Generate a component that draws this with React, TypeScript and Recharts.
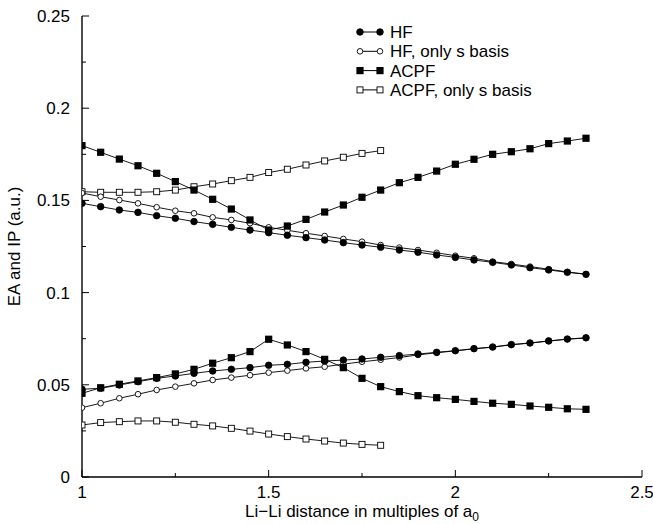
import React from 'react';
import { LineChart, Line, XAxis, YAxis } from 'recharts';

if (typeof document !== 'undefined') document.body.style.margin = '0';

const xs = [1.0, 1.05, 1.1, 1.15, 1.2, 1.25, 1.3, 1.35, 1.4, 1.45, 1.5, 1.55, 1.6, 1.65, 1.7, 1.75, 1.8, 1.85, 1.9, 1.95, 2.0, 2.05, 2.1, 2.15, 2.2, 2.25, 2.3, 2.35];

const hfUpper = [0.1484, 0.1466, 0.1448, 0.1435, 0.1417, 0.1403, 0.1385, 0.137, 0.1354, 0.1339, 0.1325, 0.1311, 0.1298, 0.1285, 0.1271, 0.1258, 0.1246, 0.1231, 0.1219, 0.1204, 0.1191, 0.1177, 0.1164, 0.115, 0.1135, 0.1123, 0.111, 0.1099];
const hfLower = [0.0476, 0.0481, 0.0499, 0.0517, 0.0535, 0.0548, 0.0562, 0.0575, 0.0584, 0.0593, 0.0606, 0.0611, 0.0622, 0.0629, 0.0634, 0.064, 0.0649, 0.0658, 0.0667, 0.0676, 0.0685, 0.0696, 0.0705, 0.0718, 0.0727, 0.0738, 0.0748, 0.0755];

const hfsUpper = [0.154, 0.152, 0.1502, 0.1484, 0.1463, 0.1444, 0.143, 0.1408, 0.1394, 0.1376, 0.1354, 0.1338, 0.1322, 0.1307, 0.1291, 0.1276, 0.1258, 0.1244, 0.1231, 0.1216, 0.12, 0.1186, 0.1168, 0.1155, 0.1141, 0.1127, 0.1112, 0.11];
const hfsLower = [0.0376, 0.04, 0.0427, 0.0449, 0.0472, 0.049, 0.0508, 0.0526, 0.0539, 0.0552, 0.0566, 0.0577, 0.0589, 0.0598, 0.0612, 0.0625, 0.0636, 0.0648, 0.0662, 0.0674, 0.0684, 0.0695, 0.0704, 0.0717, 0.0726, 0.0737, 0.0747, 0.0754];

const acpfUpper = [0.1797, 0.1761, 0.1724, 0.1688, 0.1647, 0.1602, 0.1556, 0.1506, 0.1453, 0.1394, 0.1339, 0.1361, 0.1397, 0.1437, 0.1475, 0.1517, 0.1556, 0.1596, 0.1625, 0.1659, 0.1696, 0.1723, 0.175, 0.1764, 0.178, 0.1808, 0.1822, 0.1837];
const acpfLower = [0.0454, 0.0484, 0.0503, 0.0521, 0.0539, 0.0559, 0.0584, 0.0617, 0.0647, 0.068, 0.0747, 0.0716, 0.068, 0.0638, 0.0593, 0.0535, 0.049, 0.0463, 0.0441, 0.043, 0.0421, 0.041, 0.04, 0.0394, 0.0385, 0.0378, 0.037, 0.0367];

const acpfsUpper = [0.1547, 0.1544, 0.1544, 0.1544, 0.1547, 0.1556, 0.1574, 0.1589, 0.1607, 0.1625, 0.1651, 0.1669, 0.1692, 0.1714, 0.1734, 0.1755, 0.177];
const acpfsLower = [0.0282, 0.0295, 0.03, 0.0304, 0.0304, 0.0297, 0.0286, 0.0277, 0.0264, 0.0249, 0.0233, 0.0219, 0.0206, 0.0195, 0.0184, 0.0177, 0.0172];

const xTicks = [1, 1.25, 1.5, 1.75, 2, 2.25, 2.5];
const xLabels = [1, 1.5, 2, 2.5];
const yTicks = [0, 0.025, 0.05, 0.075, 0.1, 0.125, 0.15, 0.175, 0.2, 0.225, 0.25];
const yLabels = [0, 0.05, 0.1, 0.15, 0.2, 0.25];

const legendNames = ['HF', 'HF, only s basis', 'ACPF', 'ACPF, only s basis'];

const data = xs.map((x, i) => ({
  x,
  hfU: hfUpper[i],
  hfL: hfLower[i],
  hfsU: hfsUpper[i],
  hfsL: hfsLower[i],
  acU: acpfUpper[i],
  acL: acpfLower[i],
  acsU: acpfsUpper[i],
  acsL: acpfsLower[i],
}));

const FONT = '"Liberation Sans", Arial, Helvetica, sans-serif';
const INK = '#000';

type Shape = 'fc' | 'oc' | 'fs' | 'os';

const marker = (shape: Shape, cx: number, cy: number, key?: string) => {
  if (shape === 'fc') return <circle key={key} cx={cx} cy={cy} r={3.3} fill={INK} stroke={INK} strokeWidth={0.8} />;
  if (shape === 'oc') return <circle key={key} cx={cx} cy={cy} r={2.8} fill="#fff" stroke={INK} strokeWidth={0.9} />;
  if (shape === 'fs') return <rect key={key} x={cx - 3.6} y={cy - 3.6} width={7.2} height={7.2} fill={INK} />;
  return <rect key={key} x={cx - 3} y={cy - 3} width={6} height={6} fill="#fff" stroke={INK} strokeWidth={0.9} />;
};

const makeDot = (shape: Shape) => (props: any) => {
  const { cx, cy, index, dataKey } = props;
  const k = `${dataKey}-${index}`;
  if (cx == null || cy == null || isNaN(cx) || isNaN(cy)) return <g key={k} />;
  return marker(shape, cx, cy, k);
};

const fmt = (v: number) => String(Number(v.toFixed(3)));

const BottomTick = (props: any) => {
  const { x, y, payload } = props;
  const v = payload.value;
  const major = xLabels.includes(v);
  return (
    <g>
      <line x1={x} x2={x} y1={y} y2={y - (major ? 7 : 4)} stroke={INK} strokeWidth={1} />
      {major && (
        <text x={x} y={y + 21} textAnchor="middle" fontSize={17} fontFamily={FONT} fill={INK}>
          {fmt(v)}
        </text>
      )}
    </g>
  );
};

const TopTick = (props: any) => {
  const { x, y, payload } = props;
  const major = xLabels.includes(payload.value);
  return <line x1={x} x2={x} y1={y} y2={y + (major ? 7 : 4)} stroke={INK} strokeWidth={1} />;
};

const LeftTick = (props: any) => {
  const { x, y, payload } = props;
  const v = payload.value;
  const major = yLabels.some((l) => Math.abs(l - v) < 1e-9);
  return (
    <g>
      <line x1={x} x2={x + (major ? 7 : 4)} y1={y} y2={y} stroke={INK} strokeWidth={1} />
      {major && (
        <text x={x - 12} y={y + 6} textAnchor="end" fontSize={17} fontFamily={FONT} fill={INK}>
          {fmt(v)}
        </text>
      )}
    </g>
  );
};

const RightTick = (props: any) => {
  const { x, y, payload } = props;
  const major = yLabels.some((l) => Math.abs(l - payload.value) < 1e-9);
  return <line x1={x} x2={x - (major ? 7 : 4)} y1={y} y2={y} stroke={INK} strokeWidth={1} />;
};

const XTitle = (props: any) => {
  const vb = props.viewBox || {};
  const cx = vb.x + vb.width / 2;
  return (
    <text x={cx} y={vb.y + 40} textAnchor="middle" fontSize={17} fontFamily={FONT} fill={INK}>
      {'Li\u2212Li distance in multiples of a'}
      <tspan fontSize={12} dy={4}>0</tspan>
    </text>
  );
};

const YTitle = (props: any) => {
  const vb = props.viewBox || {};
  const cy = vb.y + vb.height / 2;
  const x = 20;
  return (
    <text x={x} y={cy} transform={`rotate(-90 ${x} ${cy})`} textAnchor="middle" fontSize={17} fontFamily={FONT} fill={INK}>
      EA and IP (a.u.)
    </text>
  );
};

const legendShapes: Shape[] = ['fc', 'oc', 'fs', 'os'];

const LegendOverlay = () => (
  <svg width={653} height={110} style={{ position: 'absolute', left: 0, top: 0, pointerEvents: 'none' }}>
    {legendNames.map((name, i) => {
      const y = 32 + i * 19.3;
      return (
        <g key={name}>
          <line x1={360} x2={380} y1={y} y2={y} stroke={INK} strokeWidth={1} />
          {marker(legendShapes[i], 360, y)}
          {marker(legendShapes[i], 380, y)}
          <text x={390} y={y + 6} fontSize={17} fontFamily={FONT} fill={INK}>
            {name}
          </text>
        </g>
      );
    })}
  </svg>
);

const series: { key: string; shape: Shape }[] = [
  { key: 'acsU', shape: 'os' },
  { key: 'acsL', shape: 'os' },
  { key: 'hfsU', shape: 'oc' },
  { key: 'hfsL', shape: 'oc' },
  { key: 'acU', shape: 'fs' },
  { key: 'acL', shape: 'fs' },
  { key: 'hfU', shape: 'fc' },
  { key: 'hfL', shape: 'fc' },
];

export default function App() {
  return (
    <div style={{ position: 'relative', width: 653, height: 524, background: '#fff' }}>
      <LineChart width={653} height={524} data={data} margin={{ top: 16, right: 11, bottom: 7, left: 0 }}>
        <XAxis
          dataKey="x"
          type="number"
          domain={[1, 2.5]}
          ticks={xTicks}
          interval={0}
          allowDataOverflow
          height={40}
          tickSize={0}
          tickMargin={0}
          tickLine={false}
          axisLine={{ stroke: INK, strokeWidth: 1.4 }}
          tick={<BottomTick />}
          label={{ content: <XTitle /> } as any}
        />
        <XAxis
          xAxisId="top"
          orientation="top"
          dataKey="x"
          type="number"
          domain={[1, 2.5]}
          ticks={xTicks}
          interval={0}
          allowDataOverflow
          height={0}
          tickSize={0}
          tickMargin={0}
          tickLine={false}
          axisLine={{ stroke: INK, strokeWidth: 1.4 }}
          tick={<TopTick />}
        />
        <YAxis
          type="number"
          domain={[0, 0.25]}
          ticks={yTicks}
          interval={0}
          allowDataOverflow
          width={82}
          tickSize={0}
          tickMargin={0}
          tickLine={false}
          axisLine={{ stroke: INK, strokeWidth: 1.4 }}
          tick={<LeftTick />}
          label={{ content: <YTitle /> } as any}
        />
        <YAxis
          yAxisId="right"
          orientation="right"
          type="number"
          domain={[0, 0.25]}
          ticks={yTicks}
          interval={0}
          allowDataOverflow
          width={0}
          tickSize={0}
          tickMargin={0}
          tickLine={false}
          axisLine={{ stroke: INK, strokeWidth: 1.4 }}
          tick={<RightTick />}
        />
        {series.map((s) => (
          <Line
            key={s.key}
            dataKey={s.key}
            type="linear"
            stroke={INK}
            strokeWidth={0.9}
            dot={makeDot(s.shape)}
            activeDot={false}
            isAnimationActive={false}
            connectNulls={false}
          />
        ))}
      </LineChart>
      <LegendOverlay />
    </div>
  );
}
